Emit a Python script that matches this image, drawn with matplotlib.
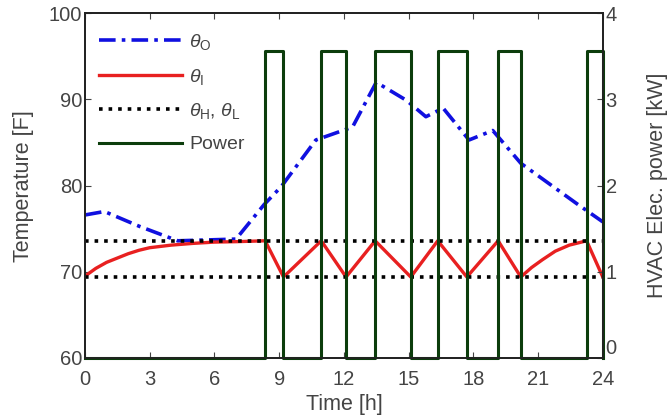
import numpy as np
import matplotlib
matplotlib.use("Agg")
import matplotlib.pyplot as plt

plt.rcParams["font.family"] = ["Liberation Sans", "DejaVu Sans"]
plt.rcParams["mathtext.fontset"] = "custom"
plt.rcParams["mathtext.it"] = "Liberation Sans:italic"
plt.rcParams["mathtext.rm"] = "Liberation Sans"

# outdoor temperature theta_O [F]
t_out = [0, 0.9, 2.5, 4.3, 7.0, 8.3, 9.1, 10.7, 12.4, 13.5, 14.9, 15.8, 16.6, 17.8, 18.9, 20.2, 22.8, 24]
temp_out = [76.6, 77.0, 75.3, 73.6, 73.8, 77.8, 79.9, 85.3, 86.8, 92.0, 89.9, 88.0, 89.0, 85.3, 86.4, 82.6, 77.9, 75.8]

# indoor temperature theta_I [F]
t_in = [0, 0.5, 1, 1.5, 2, 2.5, 3, 4, 5, 6, 7, 8.35, 9.2, 10.95, 12.1, 13.45, 15.1, 16.35,
        17.7, 19.15, 20.2, 20.7, 21.2, 21.8, 22.45, 23.25, 24]
temp_in = [69.5, 70.4, 71.1, 71.6, 72.1, 72.5, 72.8, 73.1, 73.3, 73.45, 73.5, 73.6, 69.4, 73.6, 69.4,
           73.6, 69.4, 73.6, 69.4, 73.6, 69.4, 70.5, 71.4, 72.4, 73.1, 73.6, 69.4]

# comfort band
theta_high = 73.6
theta_low = 69.4

# HVAC on periods [h] and power [kW]
pulse_on = [8.35, 10.95, 13.45, 16.35, 19.15, 23.25]
pulse_off = [9.2, 12.1, 15.1, 17.7, 20.2, 24.0]
power_kw = 3.56

px, py = [0], [0]
for a, b in zip(pulse_on, pulse_off):
    px += [a, a, b, b]
    py += [0, power_kw, power_kw, 0]

fig = plt.figure(figsize=(6.72, 4.19), dpi=100)
ax1 = fig.add_axes([0.1265, 0.1456, 0.7705, 0.8226])
ax2 = ax1.twinx()

blue_line, = ax1.plot(t_out, temp_out, color="#1010e0", lw=2.6, dashes=[4.6, 1.7, 1.0, 1.7])
red_line, = ax1.plot(t_in, temp_in, color="#e82020", lw=2.4)
dot_line, = ax1.plot([0, 24], [theta_high, theta_high], color="black", lw=2.6, ls=":")
ax1.plot([0, 24], [theta_low, theta_low], color="black", lw=2.6, ls=":")
pow_line, = ax2.plot(px, py, color="#0c3d0c", lw=2.2, clip_on=False)

ax1.set_xlim(0, 24)
ax1.set_ylim(60, 100)
ax2.set_ylim(0, 4)
ax1.set_xticks(np.arange(0, 25, 3))
ax1.set_yticks([60, 70, 80, 90, 100])
ax2.set_yticks([0, 1, 2, 3, 4])

ax1.tick_params(axis="x", direction="in", top=True, labelsize=14.5, length=4, pad=9, colors="#444444")
ax1.tick_params(axis="y", direction="in", labelsize=14.5, length=4, pad=2, colors="#444444")
ax2.tick_params(axis="y", direction="in", labelsize=14.5, length=4, pad=2, colors="#444444")
for lab in ax2.get_yticklabels():
    lab.set_verticalalignment("bottom") if lab.get_text() == "0" else None
for ax in (ax1, ax2):
    for s in ax.spines.values():
        s.set_linewidth(1.3)
        s.set_color("#222222")

ax1.set_xlabel("Time [h]", fontsize=15.5, color="#444444", labelpad=3)
ax1.set_ylabel("Temperature [F]", fontsize=15.5, color="#444444", labelpad=11)
ax2.set_ylabel("HVAC Elec. power [kW]", fontsize=15.5, color="#444444", labelpad=22)

ax2.legend([blue_line, red_line, dot_line, pow_line],
           [r"$\theta_{\rm O}$", r"$\theta_{\rm I}$", r"$\theta_{\rm H}$, $\theta_{\rm L}$", "Power"],
           loc="upper left", bbox_to_anchor=(0.0, 0.985), frameon=False, fontsize=14,
           handlelength=4.3, handletextpad=0.35, labelspacing=0.75, borderaxespad=0.3,
           labelcolor="#444444")

fig.savefig("out.png", dpi=100)
